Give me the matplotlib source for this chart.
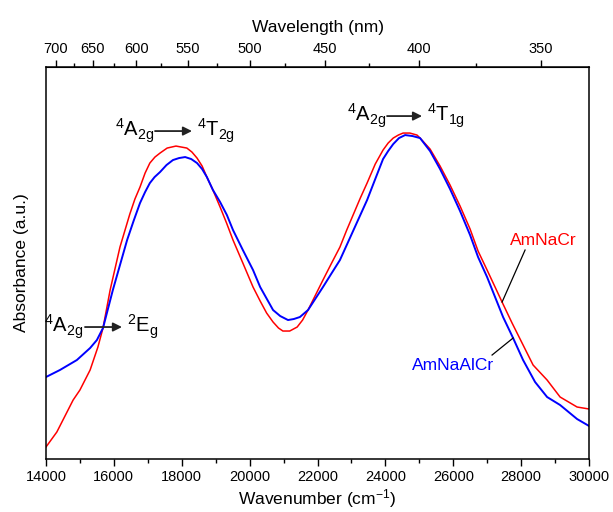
import matplotlib
matplotlib.use("Agg")
import matplotlib.pyplot as plt
from matplotlib.ticker import MultipleLocator, FixedLocator
import numpy as np

plt.rcParams['font.family'] = ['Liberation Sans', 'DejaVu Sans']
plt.rcParams['mathtext.fontset'] = 'custom'
plt.rcParams['mathtext.rm'] = 'Liberation Sans'
plt.rcParams['mathtext.default'] = 'regular'

# ---- data ----
red_wn = [14000, 14320, 14620, 14800, 15000, 15300, 15530, 15680, 15890, 16180,
          16470, 16620, 16770, 16920, 17060, 17210, 17360, 17570, 17830, 18150,
          18300, 18450, 18600, 18740, 18930, 19130, 19320, 19510, 19800, 20100,
          20310, 20500, 20690, 20850, 20980, 21180, 21400, 21560, 21720, 22160,
          22400, 22660, 22860, 23060, 23260, 23460, 23700, 23930, 24080, 24230,
          24380, 24520, 24720, 24930, 25020, 25315, 25610, 25904, 26199, 26494,
          26729, 26995, 27230, 27436, 27731, 28026, 28350, 28763, 29146, 29646,
          30000]
red_abs = [0.12, 0.27, 0.47, 0.59, 0.69, 0.89, 1.12, 1.31, 1.69, 2.12,
           2.45, 2.60, 2.72, 2.86, 2.96, 3.02, 3.06, 3.11, 3.13, 3.11,
           3.07, 3.01, 2.93, 2.82, 2.68, 2.52, 2.36, 2.19, 1.96, 1.72,
           1.58, 1.46, 1.37, 1.31, 1.28, 1.28, 1.32, 1.39, 1.49, 1.79,
           1.95, 2.12, 2.29, 2.45, 2.61, 2.76, 2.95, 3.09, 3.16, 3.21,
           3.24, 3.26, 3.26, 3.24, 3.21, 3.10, 2.93, 2.74, 2.53, 2.30,
           2.08, 1.89, 1.72, 1.57, 1.36, 1.16, 0.94, 0.79, 0.62, 0.52,
           0.50]

blue_wn = [14000, 14410, 14910, 15300, 15500, 15680, 15970, 16390, 16580, 16770,
           16920, 17060, 17200, 17360, 17550, 17740, 17920, 18100, 18280, 18450,
           18600, 18740, 18920, 19130, 19330, 19510, 19800, 20100, 20310, 20690,
           20900, 21130, 21300, 21480, 21720, 22160, 22400, 22660, 22860, 23060,
           23260, 23460, 23700, 23930, 24080, 24230, 24400, 24580, 24800, 25020,
           25315, 25610, 25904, 26199, 26494, 26729, 26995, 27230, 27466, 27761,
           28055, 28409, 28763, 29146, 29646, 30000]
blue_abs = [0.82, 0.89, 0.99, 1.11, 1.19, 1.31, 1.69, 2.19, 2.38, 2.56,
            2.67, 2.76, 2.82, 2.87, 2.94, 2.99, 3.01, 3.02, 3.00, 2.96,
            2.90, 2.82, 2.69, 2.57, 2.44, 2.29, 2.09, 1.89, 1.72, 1.49,
            1.43, 1.39, 1.40, 1.42, 1.49, 1.72, 1.85, 1.99, 2.14, 2.29,
            2.44, 2.59, 2.80, 3.00, 3.08, 3.15, 3.21, 3.24, 3.23, 3.21,
            3.08, 2.90, 2.70, 2.48, 2.24, 2.02, 1.82, 1.62, 1.42, 1.21,
            0.99, 0.77, 0.62, 0.54, 0.40, 0.33]

top_major_nm = [700, 650, 600, 550, 500, 450, 400, 350]
top_minor_nm = [675, 625, 575, 525, 475, 425, 375]

fig = plt.figure(figsize=(6.13, 5.12), dpi=100)
ax = fig.add_axes([0.075, 0.1035, 0.886, 0.7655])

ax.plot(red_wn, red_abs, color='#ff0000', lw=1.1)
ax.plot(blue_wn, blue_abs, color='#0000ff', lw=1.4)

ax.set_xlim(14000, 30000)
ax.set_ylim(0, 3.92)
ax.set_yticks([])
ax.xaxis.set_major_locator(MultipleLocator(2000))
ax.xaxis.set_minor_locator(MultipleLocator(1000))
ax.tick_params(axis='x', which='major', direction='out', length=5, width=1, labelsize=10.5, pad=3)
ax.tick_params(axis='x', which='minor', direction='out', length=3, width=1)
for s in ax.spines.values():
    s.set_linewidth(1.1)

ax.set_xlabel(r'Wavenumber (cm$^{-1}$)', fontsize=12.5, labelpad=2)
ax.set_ylabel('Absorbance (a.u.)', fontsize=12.5, labelpad=12)

sec = ax.secondary_xaxis('top', functions=(lambda x: 1e7 / np.asarray(x, float),
                                             lambda x: 1e7 / np.asarray(x, float)))
sec.xaxis.set_major_locator(FixedLocator(top_major_nm))
sec.xaxis.set_minor_locator(FixedLocator(top_minor_nm))
sec.tick_params(axis='x', which='major', direction='out', length=5, width=1, labelsize=10.5, pad=3)
sec.tick_params(axis='x', which='minor', direction='out', length=3, width=1)
sec.set_xlabel('Wavelength (nm)', fontsize=12.5, labelpad=7)

arrow_kw = dict(arrowstyle='-|>', color='#222222', lw=1.3, mutation_scale=13,
                shrinkA=0, shrinkB=0)
fs = 14.5

def transition(x0, x1, y, left, right):
    ax.annotate('', xy=(x1, y), xytext=(x0, y), arrowprops=arrow_kw)
    ax.text(x0 - 40, y, left, ha='right', va='center', fontsize=fs)
    ax.text(x1 + 150, y, right, ha='left', va='center', fontsize=fs)

transition(17212, 18302, 3.28, r'$^{4}$A$_{2g}$', r'$^{4}$T$_{2g}$')
transition(24048, 25079, 3.43, r'$^{4}$A$_{2g}$', r'$^{4}$T$_{1g}$')
transition(15149, 16239, 1.32, r'$^{4}$A$_{2g}$', r'$^{2}$E$_{g}$')

ax.text(28645, 2.19, 'AmNaCr', color='#ff0000', fontsize=12.5, ha='center', va='center')
ax.plot([28114, 27437], [2.09, 1.57], color='k', lw=0.9)
ax.text(25993, 0.94, 'AmNaAlCr', color='#0000ff', fontsize=12.5, ha='center', va='center')
ax.plot([27142, 27761], [1.04, 1.21], color='k', lw=0.9)

fig.savefig('out.png', dpi=100)
